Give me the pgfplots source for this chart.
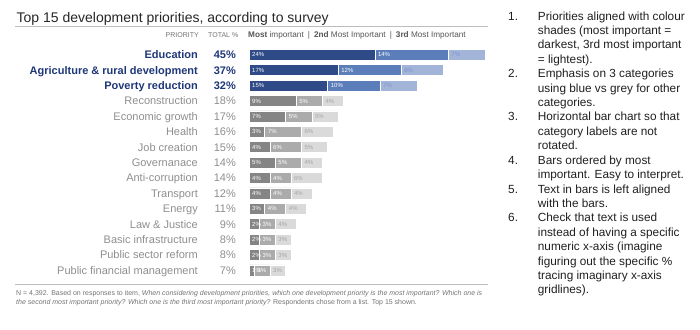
\documentclass[border=0pt]{standalone}
\usepackage{pgfplots}
\pgfplotsset{compat=1.18}
\usepackage{fontspec}
\setmainfont{Liberation Sans}
\definecolor{bdark}{HTML}{2E4A87}
\definecolor{bmid}{HTML}{5B7DBA}
\definecolor{blight}{HTML}{A3B4D9}
\definecolor{btxt}{HTML}{1E3778}
\definecolor{bltxt}{HTML}{7F95C8}
\definecolor{gdark}{HTML}{858585}
\definecolor{gmid}{HTML}{ABABAB}
\definecolor{glight}{HTML}{DADADA}
\definecolor{gtxt}{HTML}{8E8E8E}
\definecolor{gltxt}{HTML}{A5A5A5}
\definecolor{rule}{HTML}{BDBDBD}
\definecolor{hdr}{HTML}{555555}
\begin{document}
\begin{tikzpicture}
\path[use as bounding box] (0,0) rectangle (700pt,-329pt);
% title and rules
\node[anchor=base west, inner sep=0pt, text=black!85, font=\fontsize{14}{16}\selectfont] at (16.5pt,-22.5pt) {Top 15 development priorities, according to survey};
\draw[rule, line width=0.9pt] (15pt,-26.7pt) -- (488pt,-26.7pt);
\draw[rule, line width=0.9pt] (15pt,-284pt) -- (488pt,-284pt);
% header
\node[anchor=base east, inner sep=0pt, text=black!55, font=\fontsize{7}{8}\selectfont] at (199pt,-37.5pt) {PRIORITY};
\node[anchor=base west, inner sep=0pt, text=black!55, font=\fontsize{7}{8}\selectfont] at (208pt,-37.5pt) {TOTAL \%};
\node[anchor=base west, inner sep=0pt, text=hdr, font=\fontsize{8.2}{9}\selectfont] at (248pt,-37.5pt) {\textbf{Most} important\enspace|\enspace\textbf{2nd} Most Important\enspace|\enspace\textbf{3rd} Most Important};
% footnote
\node[anchor=base west, inner sep=0pt, text=black!55, font=\fontsize{7}{9}\selectfont] at (16pt,-295.5pt) {N = 4,392. Based on responses to item, \textit{When considering development priorities, which one development priority is the most important? Which one is}};
\node[anchor=base west, inner sep=0pt, text=black!55, font=\fontsize{7}{9}\selectfont] at (16pt,-304.8pt) {\textit{the second most important priority? Which one is the third most important priority?} Respondents chose from a list. Top 15 shown.};
% right-hand notes
\node[anchor=base west, inner sep=0pt, text=black!88, font=\fontsize{11.8}{14.4}\selectfont] at (508pt,-20.2pt) {%
\renewcommand{\arraystretch}{1}\setlength{\tabcolsep}{0pt}%
\begin{tabular}[t]{@{}p{29.7pt}@{}l@{}}
1. & Priorities aligned with colour\\
 & shades (most important =\\
 & darkest, 3rd most important\\
 & = lightest).\\
2. & Emphasis on 3 categories\\
 & using blue vs grey for other\\
 & categories.\\
3. & Horizontal bar chart so that\\
 & category labels are not\\
 & rotated.\\
4. & Bars ordered by most\\
 & important. Easy to interpret.\\
5. & Text in bars is left aligned\\
 & with the bars.\\
6. & Check that text is used\\
 & instead of having a specific\\
 & numeric x-axis (imagine\\
 & figuring out the specific \%\\
 & tracing imaginary x-axis\\
 & gridlines).
\end{tabular}};
% bars
\begin{axis}[at={(249pt,-47pt)}, anchor=north west, scale only axis,
  width=236pt, height=231pt, xmin=0, xmax=45, ymin=-0.5, ymax=14.5,
  y dir=reverse, hide axis, xbar stacked, bar width=11pt, clip=false]
\addplot[fill=bdark, draw=white, line width=0.5pt] coordinates {(24,0) (17,1) (15,2) (0,3) (0,4) (0,5) (0,6) (0,7) (0,8) (0,9) (0,10) (0,11) (0,12) (0,13) (0,14)};
\addplot[fill=bmid, draw=white, line width=0.5pt] coordinates {(14,0) (12,1) (10,2) (0,3) (0,4) (0,5) (0,6) (0,7) (0,8) (0,9) (0,10) (0,11) (0,12) (0,13) (0,14)};
\addplot[fill=blight, draw=white, line width=0.5pt] coordinates {(7,0) (8,1) (7,2) (0,3) (0,4) (0,5) (0,6) (0,7) (0,8) (0,9) (0,10) (0,11) (0,12) (0,13) (0,14)};
\addplot[fill=gdark, draw=white, line width=0.5pt] coordinates {(0,0) (0,1) (0,2) (9,3) (7,4) (3,5) (4,6) (5,7) (4,8) (4,9) (3,10) (2,11) (2,12) (2,13) (1,14)};
\addplot[fill=gmid, draw=white, line width=0.5pt] coordinates {(0,0) (0,1) (0,2) (5,3) (5,4) (7,5) (6,6) (5,7) (4,8) (4,9) (4,10) (3,11) (3,12) (3,13) (3,14)};
\addplot[fill=glight, draw=white, line width=0.5pt] coordinates {(0,0) (0,1) (0,2) (4,3) (5,4) (6,5) (5,6) (4,7) (6,8) (4,9) (4,10) (4,11) (3,12) (3,13) (3,14)};
\end{axis}
% labels
\begin{axis}[at={(249pt,-47pt)}, anchor=north west, scale only axis,
  width=236pt, height=231pt, xmin=0, xmax=45, ymin=-0.5, ymax=14.5,
  y dir=reverse, hide axis, clip=false, point meta=explicit symbolic,
  nodes near coords]
% category names
\addplot[draw=none, mark=none, nodes near coords style={anchor=base east, inner sep=0pt, yshift=-4pt, text=btxt, font=\fontsize{11}{12}\selectfont\bfseries}] coordinates {
(-9.72,0) [Education] (-9.72,1) [Agriculture \& rural development] (-9.72,2) [Poverty reduction]};
\addplot[draw=none, mark=none, nodes near coords style={anchor=base east, inner sep=0pt, yshift=-4pt, text=gtxt, font=\fontsize{11}{12}\selectfont}] coordinates {
(-9.72,3) [Reconstruction] (-9.72,4) [Economic growth] (-9.72,5) [Health] (-9.72,6) [Job creation] (-9.72,7) [Governanace] (-9.72,8) [Anti-corruption] (-9.72,9) [Transport] (-9.72,10) [Energy] (-9.72,11) [Law \& Justice] (-9.72,12) [Basic infrastructure] (-9.72,13) [Public sector reform] (-9.72,14) [Public financial management]};
% totals
\addplot[draw=none, mark=none, nodes near coords style={anchor=base east, inner sep=0pt, yshift=-4pt, text=btxt, font=\fontsize{11}{12}\selectfont\bfseries}] coordinates {
(-2.48,0) [45\%] (-2.48,1) [37\%] (-2.48,2) [32\%]};
\addplot[draw=none, mark=none, nodes near coords style={anchor=base east, inner sep=0pt, yshift=-4pt, text=gtxt, font=\fontsize{11}{12}\selectfont}] coordinates {
(-2.48,3) [18\%] (-2.48,4) [17\%] (-2.48,5) [16\%] (-2.48,6) [15\%] (-2.48,7) [14\%] (-2.48,8) [14\%] (-2.48,9) [12\%] (-2.48,10) [11\%] (-2.48,11) [9\%] (-2.48,12) [8\%] (-2.48,13) [8\%] (-2.48,14) [7\%]};
% in-bar labels, dark and mid segments
\addplot[draw=none, mark=none, nodes near coords style={anchor=base west, inner sep=0pt, xshift=3pt, yshift=-2.2pt, text=white, font=\fontsize{6}{7}\selectfont}] coordinates {
(0,0) [24\%] (24,0) [14\%] (0,1) [17\%] (17,1) [12\%] (0,2) [15\%] (15,2) [10\%]
(0,3) [9\%] (9,3) [5\%] (0,4) [7\%] (7,4) [5\%] (0,5) [3\%] (3,5) [7\%]
(0,6) [4\%] (4,6) [6\%] (0,7) [5\%] (5,7) [5\%] (0,8) [4\%] (4,8) [4\%]
(0,9) [4\%] (4,9) [4\%] (0,10) [3\%] (3,10) [4\%] (0,11) [2\%] (2,11) [3\%]
(0,12) [2\%] (2,12) [3\%] (0,13) [2\%] (2,13) [3\%] (0,14) [1\%] (1,14) [3\%]};
% light segments
\addplot[draw=none, mark=none, nodes near coords style={anchor=base west, inner sep=0pt, xshift=3pt, yshift=-2.2pt, text=bltxt, font=\fontsize{6}{7}\selectfont}] coordinates {
(38,0) [7\%] (29,1) [8\%] (25,2) [7\%]};
\addplot[draw=none, mark=none, nodes near coords style={anchor=base west, inner sep=0pt, xshift=3pt, yshift=-2.2pt, text=gltxt, font=\fontsize{6}{7}\selectfont}] coordinates {
(14,3) [4\%] (12,4) [5\%] (10,5) [6\%] (10,6) [5\%] (10,7) [4\%] (8,8) [6\%] (8,9) [4\%] (7,10) [4\%] (5,11) [4\%] (5,12) [3\%] (5,13) [3\%] (4,14) [3\%]};
\end{axis}
\end{tikzpicture}
\end{document}
